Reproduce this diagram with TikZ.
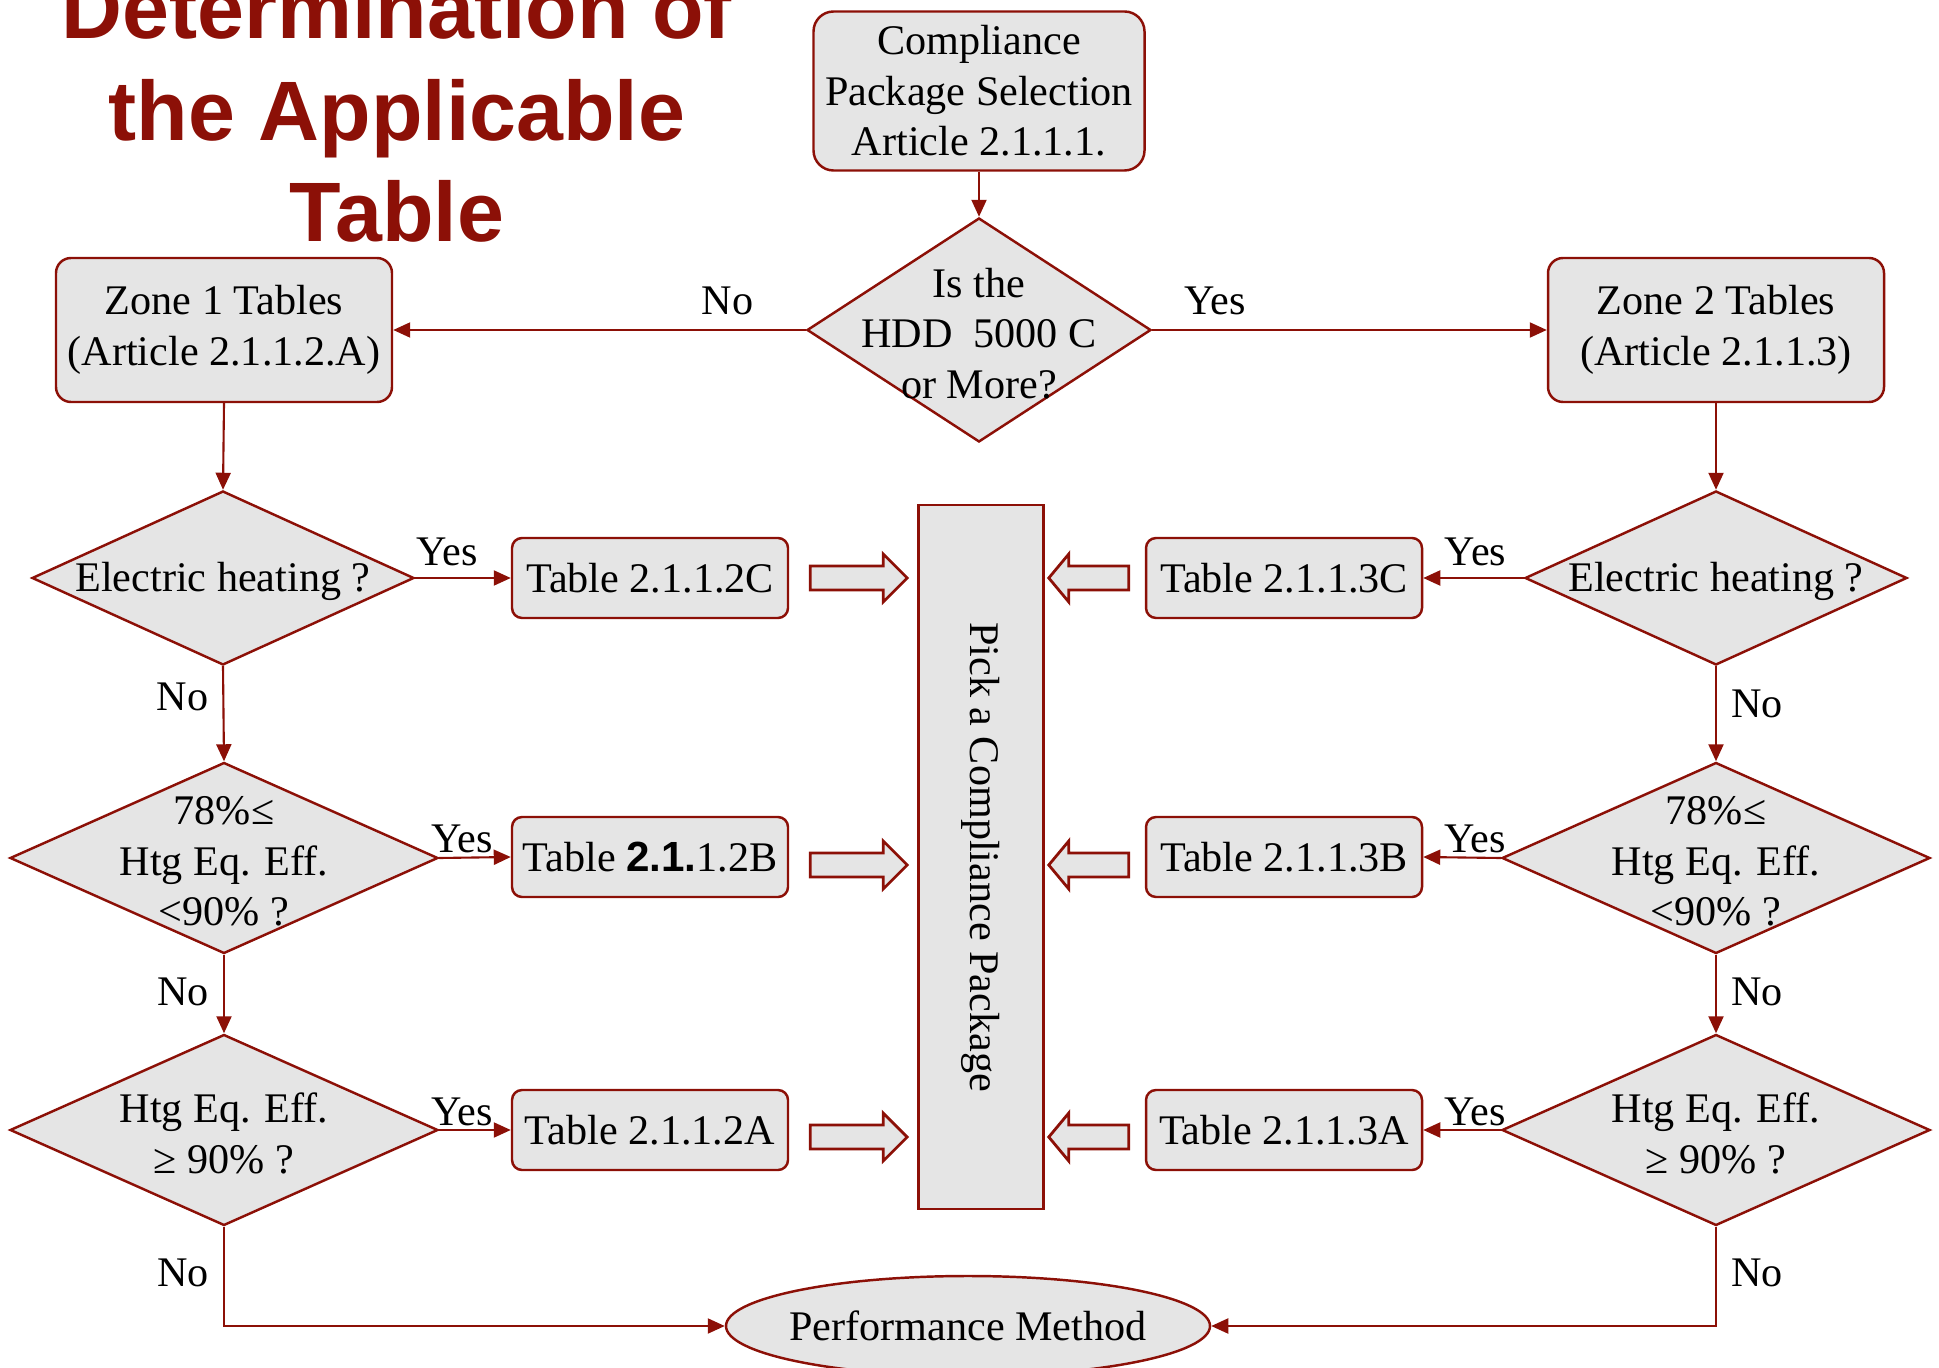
\documentclass[tikz,border=0pt]{standalone}
\usepackage{fontspec}
\setmainfont{Liberation Serif}
\newfontfamily\headfont{Liberation Sans}
\usetikzlibrary{arrows.meta, shapes.geometric, calc}
\definecolor{cpred}{HTML}{8C1007}
\definecolor{cpgrey}{HTML}{E5E5E5}

\begin{document}
\begin{tikzpicture}[x=0.1mm, y=-0.1mm,
      every node/.style={font=\fontsize{12}{14.4}\selectfont},
      box/.style={draw=cpred, fill=cpgrey, line width=.7pt, rounded corners=2mm, align=center, inner sep=0pt},
      tab/.style={box, rounded corners=1mm, minimum width=2.76cm, minimum height=.8cm},
      dec/.style={diamond, draw=cpred, fill=cpgrey, line width=.7pt, inner sep=0pt},
      dtxt/.style={align=center, inner sep=0pt, yshift=-1pt},
      lbl/.style={inner sep=0pt},
      con/.style={draw=cpred, line width=.6pt, -{Triangle[length=1.7mm, width=1.5mm]}},
      blk/.style={draw=cpred, fill=cpgrey, line width=.8pt}]
      \useasboundingbox (0,0) rectangle (1939,1368);

      \node[font=\headfont\bfseries\fontsize{24}{28.8}\selectfont, text=cpred, align=center, inner sep=0pt] (title) at (397,110) {Determination of\\the Applicable\\Table};

      \node[box, minimum width=3.31cm, minimum height=1.59cm] (sel) at (979,91) {Compliance\\Package Selection\\Article 2.1.1.1.};
      \node[dec, minimum width=3.44cm, minimum height=2.24cm, label={[dtxt]center:Is the\\HDD~~5000 C\\or More?}] (hdd) at (979,330) {};
      \node[box, rounded corners=1.5mm, minimum width=3.36cm, minimum height=1.44cm] (z1) at (224,330) {Zone 1 Tables\\(Article 2.1.1.2.A)};
      \node[box, rounded corners=1.5mm, minimum width=3.36cm, minimum height=1.44cm] (z2) at (1716,330) {Zone 2 Tables\\(Article 2.1.1.3)};

      \node[dec, minimum width=3.82cm, minimum height=1.74cm, label={[dtxt]center:Electric heating ?}] (le) at (223,578) {};
      \node[dec, minimum width=4.28cm, minimum height=1.91cm, label={[dtxt]center:78\%≤\\Htg Eq. Eff.\\<90\% ?}] (lm) at (224,858) {};
      \node[dec, minimum width=4.28cm, minimum height=1.91cm, label={[dtxt]center:Htg Eq. Eff.\\≥ 90\% ?}] (lh) at (224,1130) {};
      \node[dec, minimum width=3.82cm, minimum height=1.74cm, label={[dtxt]center:Electric heating ?}] (re) at (1716,578) {};
      \node[dec, minimum width=4.28cm, minimum height=1.91cm, label={[dtxt]center:78\%≤\\Htg Eq. Eff.\\<90\% ?}] (rm) at (1716,858) {};
      \node[dec, minimum width=4.28cm, minimum height=1.91cm, label={[dtxt]center:Htg Eq. Eff.\\≥ 90\% ?}] (rh) at (1716,1130) {};

      \node[tab] (t2c) at (650,578) {Table 2.1.1.2C};
      \node[tab] (t2b) at (650,857) {Table {\headfont\bfseries 2.1.}1.2B};
      \node[tab] (t2a) at (650,1130) {Table 2.1.1.2A};
      \node[tab] (t3c) at (1284,578) {Table 2.1.1.3C};
      \node[tab] (t3b) at (1284,857) {Table 2.1.1.3B};
      \node[tab] (t3a) at (1284,1130) {Table 2.1.1.3A};

      \node[box, rounded corners=0pt, rotate=-90, minimum width=7.04cm, minimum height=1.25cm] (pick) at (981,857) {Pick a Compliance Package};
      \node[ellipse, draw=cpred, fill=cpgrey, line width=.7pt, inner sep=0pt, minimum width=4.84cm, minimum height=1cm, label={[lbl]center:Performance Method}] (perf) at (968,1326) {};

      \draw[con] (sel.south) -- (hdd.north);
      \draw[con] (hdd.west) -- node[lbl, pos=.19, above=4pt] {No} (z1.east);
      \draw[con] (hdd.east) -- node[lbl, pos=.16, above=4pt] {Yes} (z2.west);
      \draw[con] (z1.south) -- (le.north);
      \draw[con] (z2.south) -- (re.north);

      \draw[con] (le.east) -- node[lbl, pos=.33, above=3pt] {Yes} (t2c.west);
      \draw[con] (lm.east) -- node[lbl, pos=.32, above=1pt] {Yes} (t2b.west);
      \draw[con] (lh.east) -- node[lbl, pos=.32, above=1pt] {Yes} (t2a.west);
      \draw[con] (re.west) -- node[lbl, pos=.48, above=3pt] {Yes} (t3c.east);
      \draw[con] (rm.west) -- node[lbl, pos=.33, above=1pt] {Yes} (t3b.east);
      \draw[con] (rh.west) -- node[lbl, pos=.33, above=1pt] {Yes} (t3a.east);

      \draw[con] (le.south) -- node[lbl, pos=.32, left=4pt] {No} (lm.north);
      \draw[con] (lm.south) -- node[lbl, pos=.47, left=4pt] {No} (lh.north);
      \draw[con] (re.south) -- node[lbl, pos=.4, right=4pt] {No} (rm.north);
      \draw[con] (rm.south) -- node[lbl, pos=.47, right=4pt] {No} (rh.north);
      \draw[con] (lh.south) |- node[lbl, pos=.23, left=4pt] {No} (perf.west);
      \draw[con] (rh.south) |- node[lbl, pos=.23, right=4pt] {No} (perf.east);

      \foreach \r/\dy in {c/0, b/8, a/7}{
        \draw[blk] ($(t2\r.east)+(21,\dy-12)$) -- ++(73,0) -- ++(0,-12) -- ++(24,24) -- ++(-24,24) -- ++(0,-12) -- ++(-73,0) -- cycle;
        \draw[blk] ($(t3\r.west)+(-16,\dy-12)$) -- ++(-60,0) -- ++(0,-12) -- ++(-20,24) -- ++(20,24) -- ++(0,-12) -- ++(60,0) -- cycle;
      }
    \end{tikzpicture}
\end{document}
